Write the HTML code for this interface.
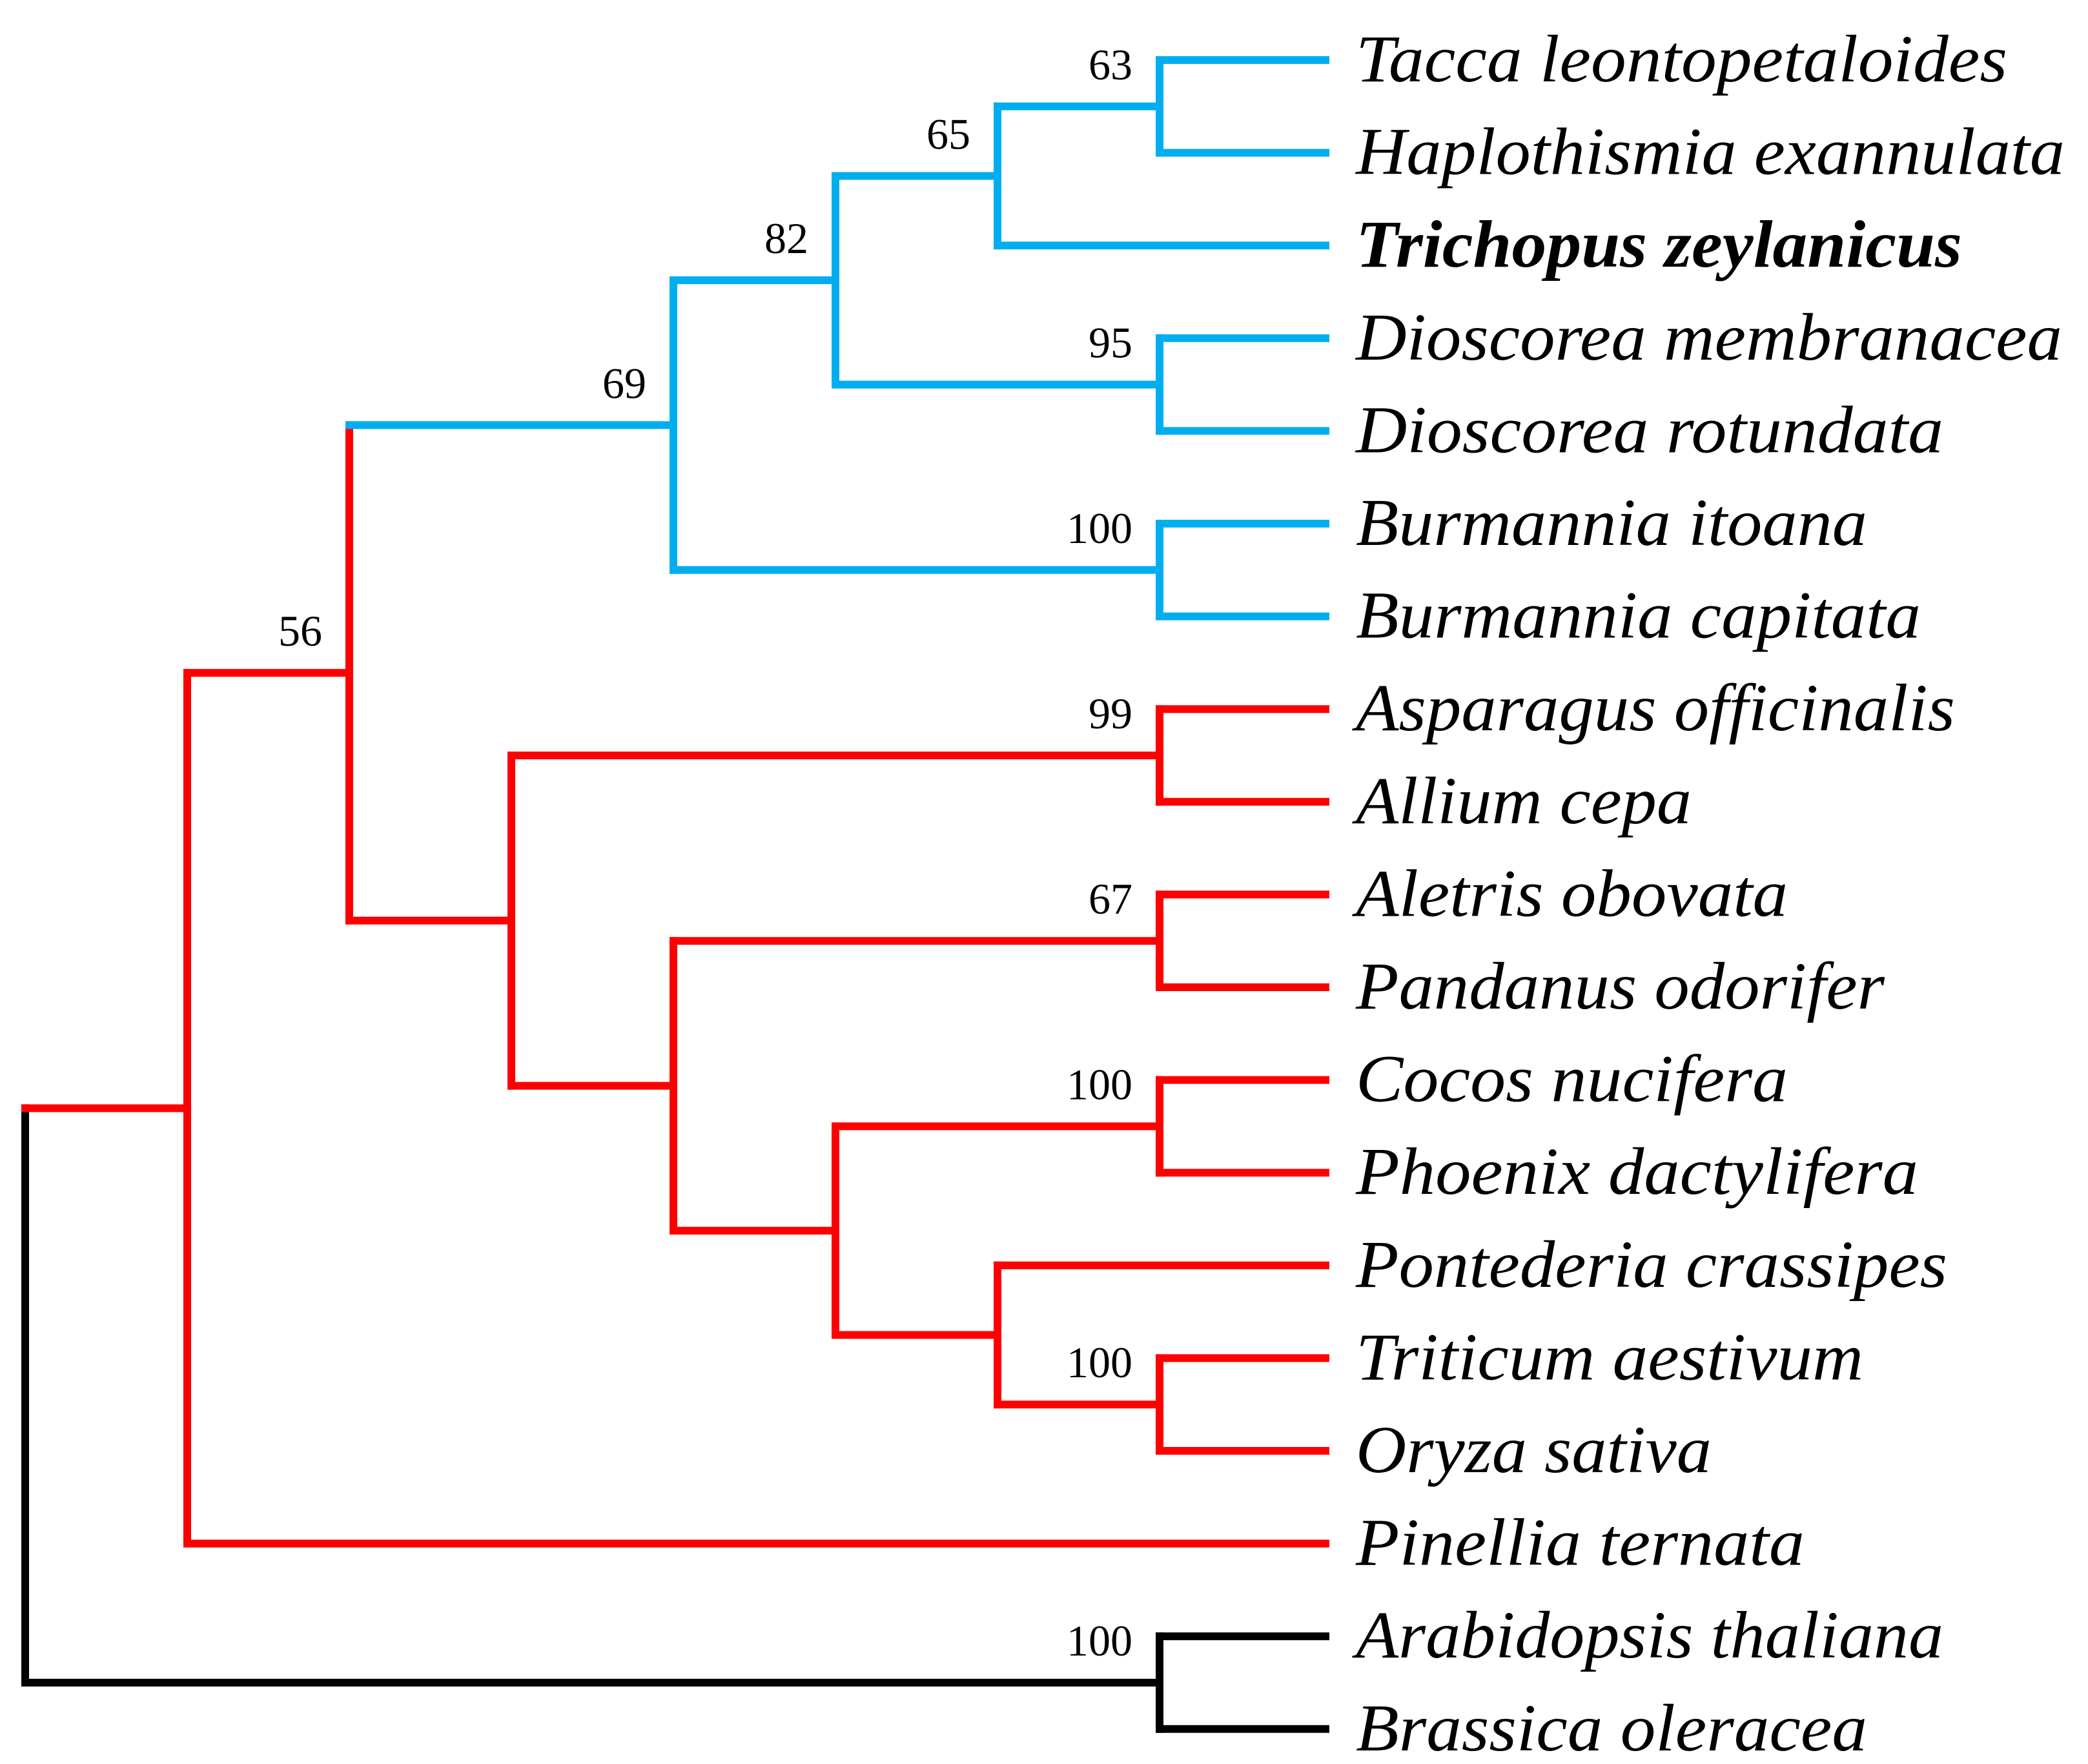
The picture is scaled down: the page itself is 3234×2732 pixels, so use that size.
<!DOCTYPE html>
<html><head><meta charset="utf-8"><style>
html,body{margin:0;padding:0;background:#fff}
svg{display:block}
</style></head><body>
<svg id="tree" width="3234" height="2732" viewBox="0 0 3234 2732" xmlns="http://www.w3.org/2000/svg"></svg>
<script>
const leafNames=["Tacca leontopetaloides","Haplothismia exannulata","Trichopus zeylanicus","Dioscorea membranacea","Dioscorea rotundata","Burmannia itoana","Burmannia capitata","Asparagus officinalis","Allium cepa","Aletris obovata","Pandanus odorifer","Cocos nucifera","Phoenix dactylifera","Pontederia crassipes","Triticum aestivum","Oryza sativa","Pinellia ternata","Arabidopsis thaliana","Brassica oleracea"];
const leafEndX=[1507,1550,1473,1548,1459,1402,1442,1468,1270,1342,1415,1342,1440,1462,1399,1285,1355,1459,1402];
const nodeIds=["root","A","B","D","F","G","TH","DM","BU","E","AA","H","AP","I","CP","J","TO","OUT"];
const nodeCols=[0,1,2,4,5,6,7,7,7,3,7,4,7,5,7,6,7,7];
const nodeKids=[["A","OUT"],["B","L16"],["D","E"],["F","BU"],["G","DM"],["TH","L2"],["L0","L1"],["L3","L4"],["L5","L6"],["AA","H"],["L7","L8"],["AP","I"],["L9","L10"],["CP","J"],["L11","L12"],["L13","TO"],["L14","L15"],["L17","L18"]];
const bootstraps=[null,null,56,69,82,65,63,95,100,null,99,null,67,null,100,null,100,100];
const nodeColors=["#000","#ff0000","#ff0000","#00aeef","#00aeef","#00aeef","#00aeef","#00aeef","#00aeef","#ff0000","#ff0000","#ff0000","#ff0000","#ff0000","#ff0000","#ff0000","#ff0000","#000"];

const S=2.063, X0=39, COLW=251, TIPX=2053, Y0=93, ROWH=143.6, LW=12;
const svg=document.getElementById('tree');
const NS='http://www.w3.org/2000/svg';
const xCol=c=>X0+c*COLW;
const yLeaf=i=>Y0+i*ROWH;
const idx=id=>nodeIds.indexOf(id);
function nodeY(id){
  if(id[0]==='L') return yLeaf(+id.slice(1));
  const k=nodeKids[idx(id)];
  return (nodeY(k[0])+nodeY(k[1]))/2;
}
function nodeX(id){ return id[0]==='L'?TIPX:xCol(nodeCols[idx(id)]); }
function line(x1,y1,x2,y2,c){
  const l=document.createElementNS(NS,'line');
  l.setAttribute('x1',x1);l.setAttribute('y1',y1);l.setAttribute('x2',x2);l.setAttribute('y2',y2);
  l.setAttribute('stroke',c);l.setAttribute('stroke-width',LW);l.setAttribute('stroke-linecap','square');
  
  
  svg.appendChild(l);
}
function childColor(id,parentColor){
  if(id[0]==='L') return parentColor;
  return nodeColors[idx(id)];
}
nodeIds.forEach((id,n)=>{
  const x=xCol(nodeCols[n]);
  const k=nodeKids[n];
  const ys=k.map(nodeY);
  const c=nodeColors[n];
  line(x,ys[0],x,ys[1],c);
  k.forEach((ch,j)=>{
    let cc=childColor(ch,c);
    if(id==='root') cc = ch==='A' ? '#ff0000' : '#000';
    line(x,ys[j],nodeX(ch),ys[j],cc);
  });
  if(bootstraps[n]!==null){
    const t=document.createElementNS(NS,'text');
    t.setAttribute('x',x-42);t.setAttribute('y',nodeY(id)-42);
    t.setAttribute('text-anchor','end');
    t.setAttribute('font-family','"Liberation Serif", serif');
    t.setAttribute('font-size','68');
    t.textContent=bootstraps[n];
    
    
    svg.appendChild(t);
  }
});
leafNames.forEach((nm,i)=>{
  const t=document.createElementNS(NS,'text');
  t.setAttribute('x',2100);t.setAttribute('y',yLeaf(i)+33);
  t.setAttribute('font-family','"Liberation Serif", serif');
  t.setAttribute('font-size','104');
  t.setAttribute('font-style','italic');
  if(i===2) t.setAttribute('font-weight','bold');
  t.setAttribute('textLength',(leafEndX[i]*S-2100).toFixed(0));
  t.setAttribute('lengthAdjust','spacingAndGlyphs');
  t.textContent=nm;
  
  
  svg.appendChild(t);
});
</script>
</body></html>
